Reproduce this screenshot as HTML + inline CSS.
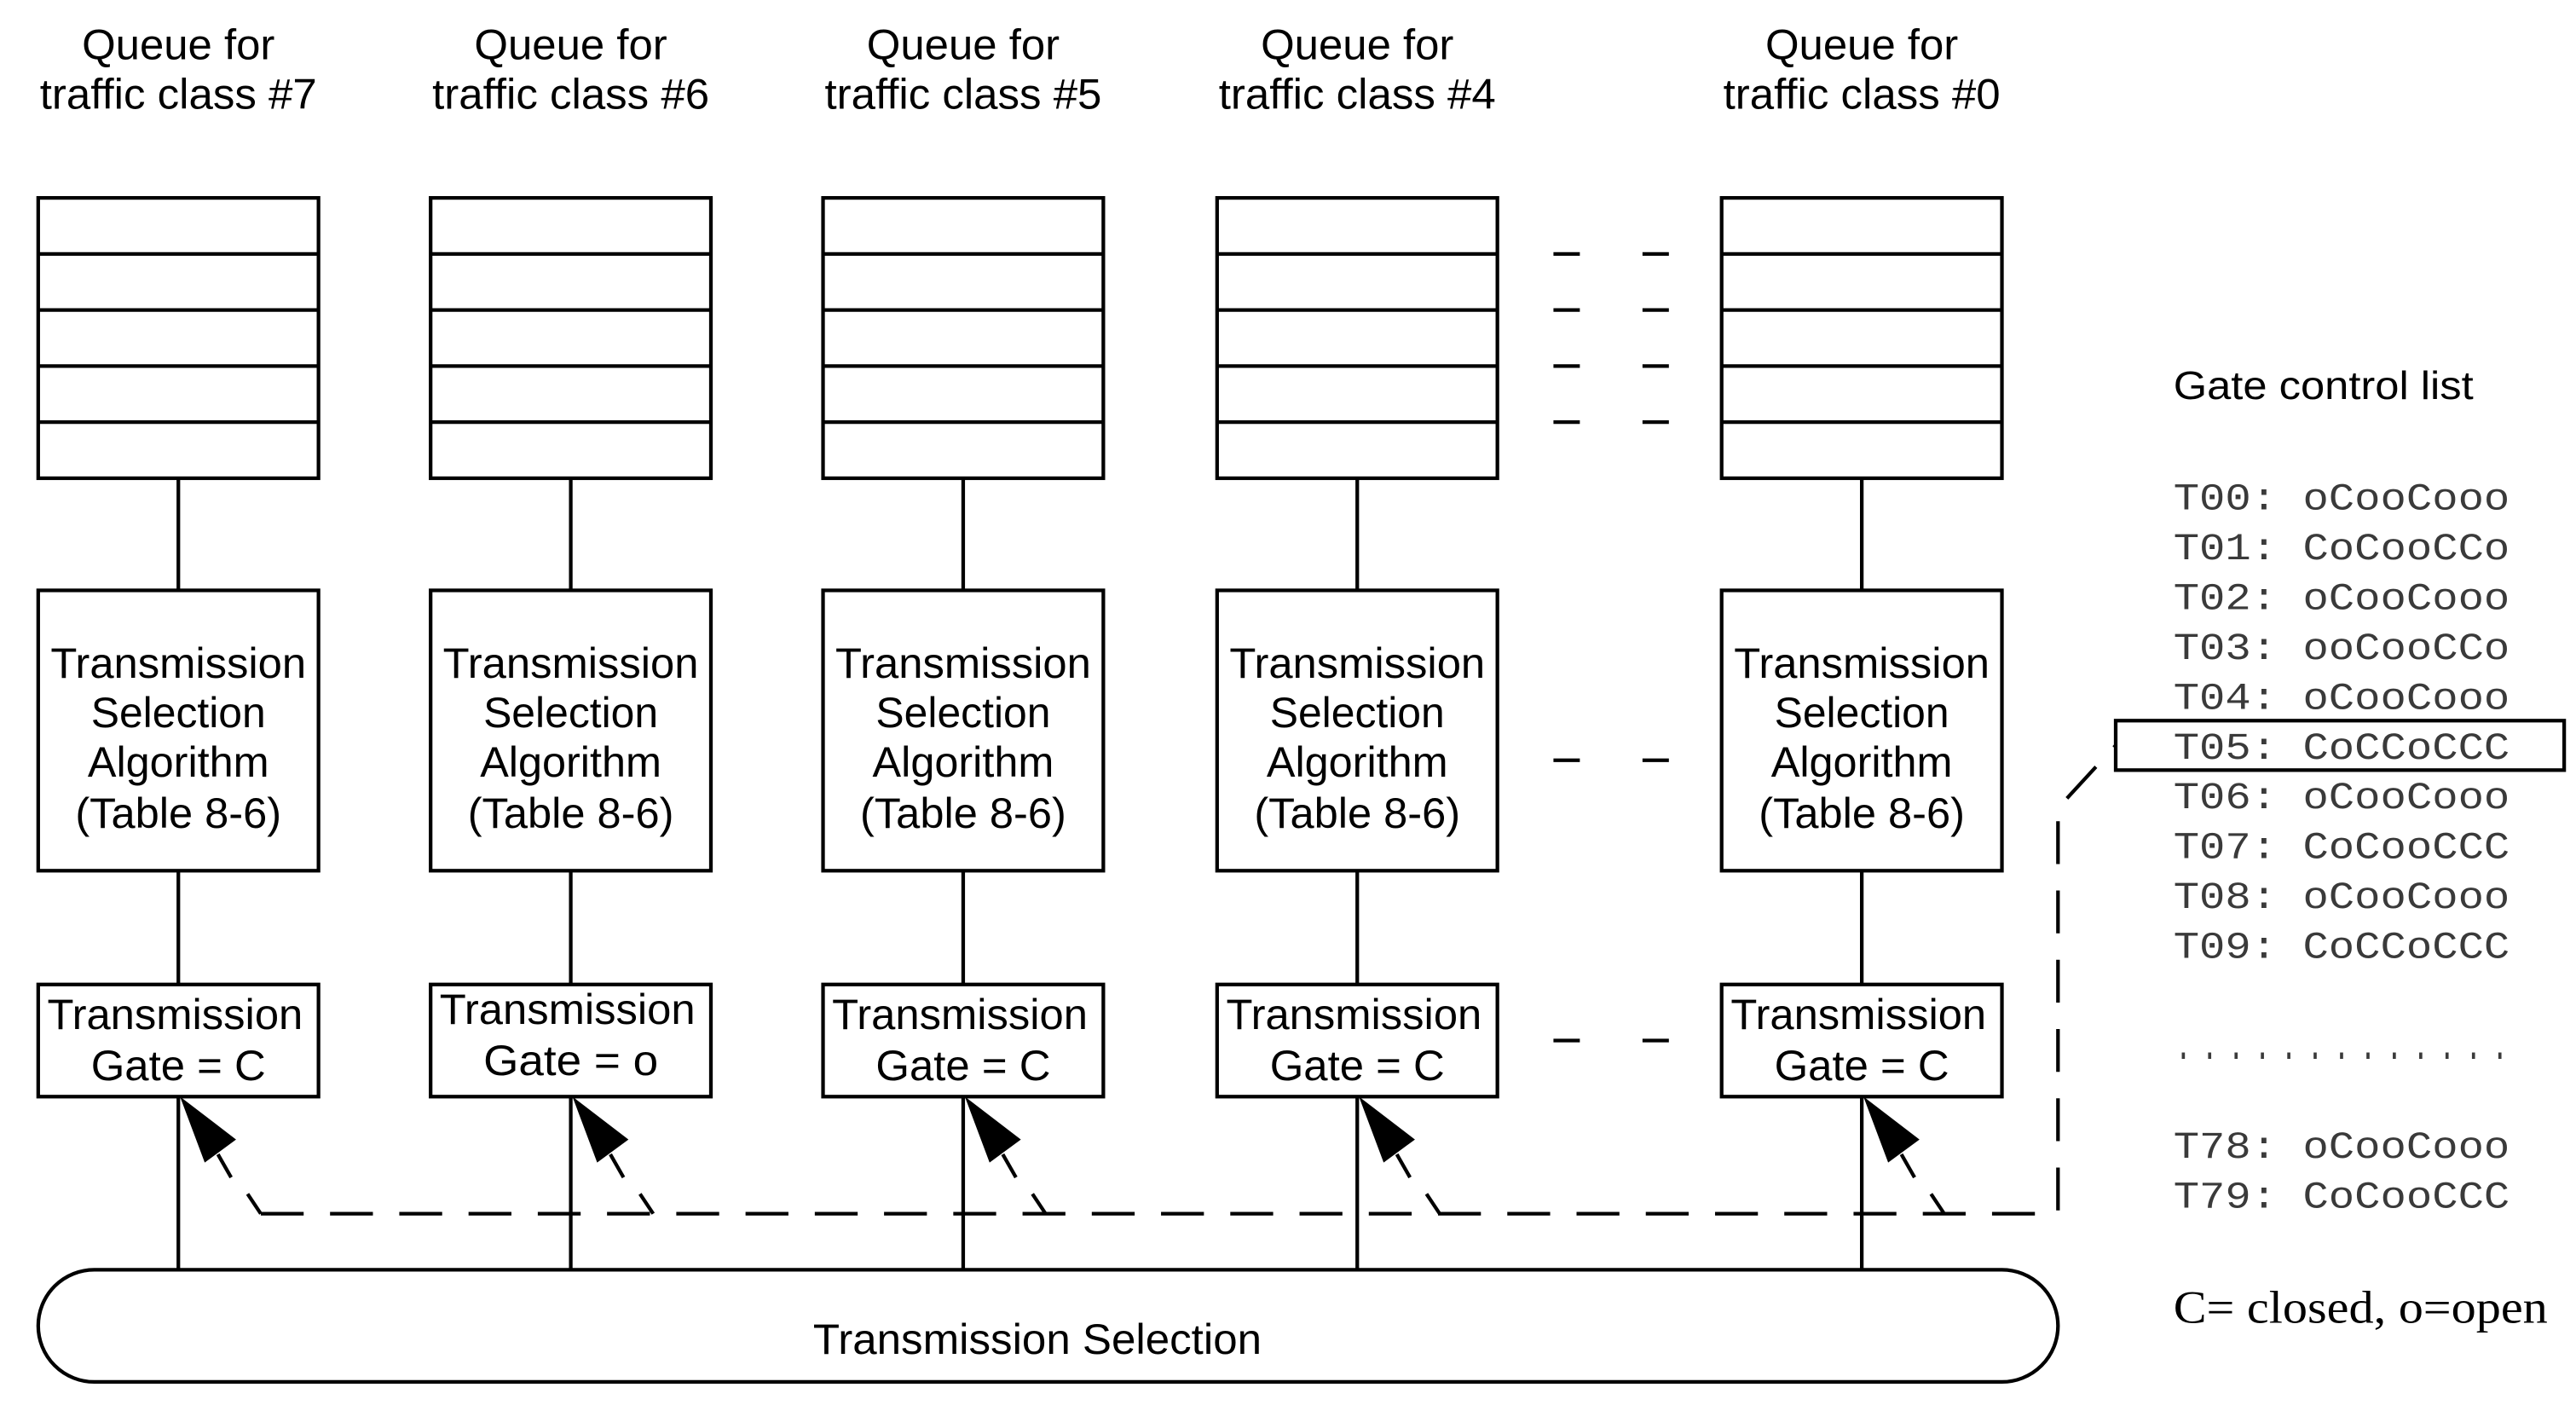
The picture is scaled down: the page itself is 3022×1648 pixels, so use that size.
<!DOCTYPE html>
<html><head><meta charset="utf-8"><style>
html,body{margin:0;padding:0;background:#fff;}
svg{display:block;}
text{font-family:"Liberation Sans",sans-serif;fill:#000;}
.mono{font-family:"Liberation Mono",monospace;fill:#3a3a3a;}
.serif{font-family:"Liberation Serif",serif;}
</style></head><body>
<svg id="d" width="3022" height="1648" viewBox="0 0 1562 852" xmlns="http://www.w3.org/2000/svg"></svg>
<script>
const colCenters = [108, 346, 584, 823, 1129];
const classLabels = ['#7', '#6', '#5', '#4', '#0'];
const gateStates = ['C', 'o', 'C', 'C', 'C'];
const gclTimes = ['T00','T01','T02','T03','T04','T05','T06','T07','T08','T09'];
const gclStates = ['oCooCooo','CoCooCCo','oCooCooo','ooCooCCo','oCooCooo','CoCCoCCC','oCooCooo','CoCooCCC','oCooCooo','CoCCoCCC'];
const gclTailTimes = ['T78','T79'];
const gclTailStates = ['oCooCooo','CoCooCCC'];

const svg = document.getElementById('d');
const NS = 'http://www.w3.org/2000/svg';
function mk(tag, attrs, parent){const e=document.createElementNS(NS,tag);for(const k in attrs)e.setAttribute(k,attrs[k]);(parent||svg).appendChild(e);return e;}
function txt(str,x,y,size,len,cls,anchor,parent){const t=mk('text',{x:x,y:y,'font-size':size,'text-anchor':anchor||'middle'},parent);if(len){t.setAttribute('textLength',len);t.setAttribute('lengthAdjust','spacingAndGlyphs');}if(cls)t.setAttribute('class',cls);t.textContent=str;return t;}
const S={stroke:'#000','stroke-width':2.2,fill:'none'};
const D={stroke:'#000','stroke-width':2.2,fill:'none','stroke-dasharray':'26,16'};

colCenters.forEach((cx,i)=>{
  const g=mk('g',{});
  
  
  const x=cx-85;
  txt('Queue for',cx,36,26,117,null,'middle',g);
  txt('traffic class '+classLabels[i],cx,66,26,168,null,'middle',g);
  const q=mk('rect',Object.assign({x:x,y:120,width:170,height:170},S),g);
  
  
  for(let r=1;r<5;r++) mk('line',Object.assign({x1:x,x2:x+170,y1:120+34*r,y2:120+34*r},S),g);
  mk('line',Object.assign({x1:cx,x2:cx,y1:290,y2:358},S),g);
  const a=mk('rect',Object.assign({x:x,y:358,width:170,height:170},S),g);
  
  
  txt('Transmission',cx,411,26,155,null,'middle',g);
  txt('Selection',cx,441,26,106,null,'middle',g);
  txt('Algorithm',cx,471,26,110,null,'middle',g);
  txt('(Table 8-6)',cx,502,26,125,null,'middle',g);
  mk('line',Object.assign({x1:cx,x2:cx,y1:528,y2:597},S),g);
  const gb=mk('rect',Object.assign({x:x,y:597,width:170,height:68},S),g);
  
  
  const off = gateStates[i]==='o' ? -3 : 0;
  txt('Transmission',cx-2,624+off,26,155,null,'middle',g);
  txt('Gate = '+gateStates[i],cx,655+off,26,106,null,'middle',g);
  mk('line',Object.assign({x1:cx,x2:cx,y1:665,y2:770},S),g);
  const ar=mk('polygon',{points:`${cx+1},665 ${cx+16},705 ${cx+35},691`,fill:'#000'},g);
  
  
  mk('line',Object.assign({x1:cx+24,y1:700,x2:cx+32,y2:714},S),g);
  mk('line',Object.assign({x1:cx+42,y1:724,x2:cx+50,y2:736},S),g);
});
// dashed control path
const cp=mk('polyline',Object.assign({points:'158,736 1248,736 1248,490 1283,452'},D));


// ellipsis dashes
[154,188,222,256,461,631].forEach(y=>{
  mk('line',Object.assign({x1:942,x2:958,y1:y,y2:y},S));
  mk('line',Object.assign({x1:996,x2:1012,y1:y,y2:y},S));
});
// transmission selection
const ts=mk('rect',Object.assign({x:23,y:770,width:1225,height:68,rx:34,ry:34},S));


txt('Transmission Selection',629,821,26,272);
// gate control list
const gt=txt('Gate control list',1318,242,24,182,null,'start');


gclTimes.forEach((t,i)=>{
  const e=txt(t+':  '+gclStates[i],1318,309+i*30.2,23,204,'mono','start');
  
  
});
txt('. . . . . . . . . . . . .',1320,642,26,200,'mono','start').setAttribute('font-weight','bold');
gclTailTimes.forEach((t,i)=>{
  const e=txt(t+':  '+gclTailStates[i],1318,702+i*30.2,23,204,'mono','start');
  
  
});
const hl=mk('rect',Object.assign({x:1283,y:437,width:272,height:30},S));


const lg=txt('C= closed, o=open',1318,802,28,227,'serif','start');


</script>
</body></html>
